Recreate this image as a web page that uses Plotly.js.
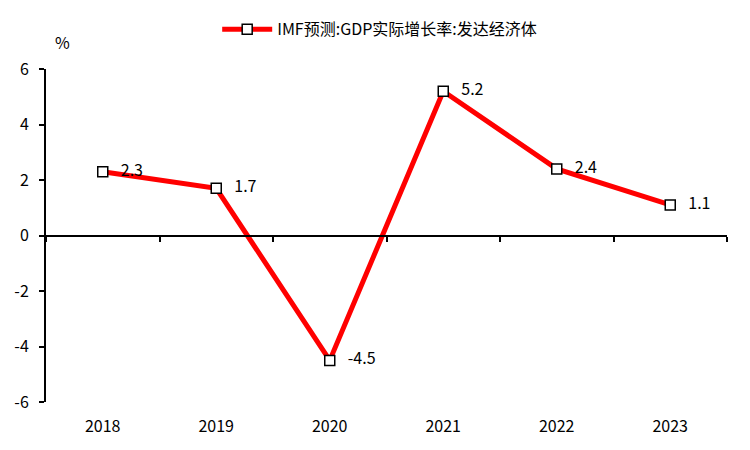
<!DOCTYPE html>
<html><head><meta charset="utf-8">
<script src="https://cdn.plot.ly/plotly-3.0.1.min.js"></script>
<style>body{margin:0;background:#fff}#c{width:750px;height:450px}</style>
</head><body><div id="c"></div>
<script>
const years = ['2018','2019','2020','2021','2022','2023'];
const gdp = [2.3, 1.7, -4.5, 5.2, 2.4, 1.1];
const seriesName = 'IMF预测:GDP实际增长率:发达经济体';
const yTicks = [-6,-4,-2,0,2,4,6];

const font = {family: '"Noto Sans CJK SC", "Open Sans", sans-serif', size: 16, color: '#000'};

const trace = {
  x: years, y: gdp, type: 'scatter', mode: 'lines+markers+text',
  name: seriesName,
  text: gdp.map(v => '   ' + v.toFixed(1)),
  textposition: 'middle right',
  textfont: {size: 16, color: '#000', family: font.family},
  line: {color: '#FF0000', width: 5},
  marker: {symbol: 'square', size: 10, color: '#fff', line: {color: '#000', width: 1.5}},
  cliponaxis: false
};

const boundaries = years.map((_, i) => i - 0.5).concat([years.length - 0.5]);

const layout = {
  width: 750, height: 450,
  margin: {l: 46, r: 23, t: 69, b: 48},
  paper_bgcolor: '#fff', plot_bgcolor: '#fff',
  font: font,
  showlegend: true,
  legend: {orientation: 'h', x: 0.49, xanchor: 'center', y: 0.935, yanchor: 'middle', yref: 'container',
           itemwidth: 50, font: {size: 16}},
  xaxis: {
    type: 'category', range: [-0.5, years.length - 0.5],
    showline: false, showgrid: false, zeroline: false,
    ticks: 'outside', ticklen: 10, tickcolor: 'rgba(0,0,0,0)',
    tickfont: {size: 16}
  },
  xaxis2: {
    overlaying: 'x', anchor: 'free', position: 0.5, side: 'bottom',
    range: [-0.5, years.length - 0.5], tickvals: boundaries,
    showticklabels: false, showline: true, linecolor: '#000', linewidth: 2,
    ticks: 'outside', ticklen: 5, tickwidth: 2, tickcolor: '#000',
    showgrid: false, zeroline: false
  },
  yaxis: {
    range: [-6, 6], tickvals: yTicks, ticktext: yTicks.map(String),
    showline: true, linecolor: '#000', linewidth: 2,
    ticks: 'outside', ticklen: 5, tickwidth: 2, tickcolor: '#000',
    ticklabelstandoff: 7,
    showgrid: false, zeroline: false, tickfont: {size: 16}
  },
  annotations: [{
    text: '%', xref: 'paper', yref: 'paper', x: 0.01, y: 1.04,
    xanchor: 'left', yanchor: 'bottom', showarrow: false, font: {size: 16}
  }]
};

const dummy = {x: [0], y: [0], xaxis: 'x2', type: 'scatter', mode: 'markers', marker: {opacity: 0}, showlegend: false, hoverinfo: 'skip'};

Plotly.newPlot('c', [trace, dummy], layout, {displayModeBar: false, staticPlot: true});
</script></body></html>
